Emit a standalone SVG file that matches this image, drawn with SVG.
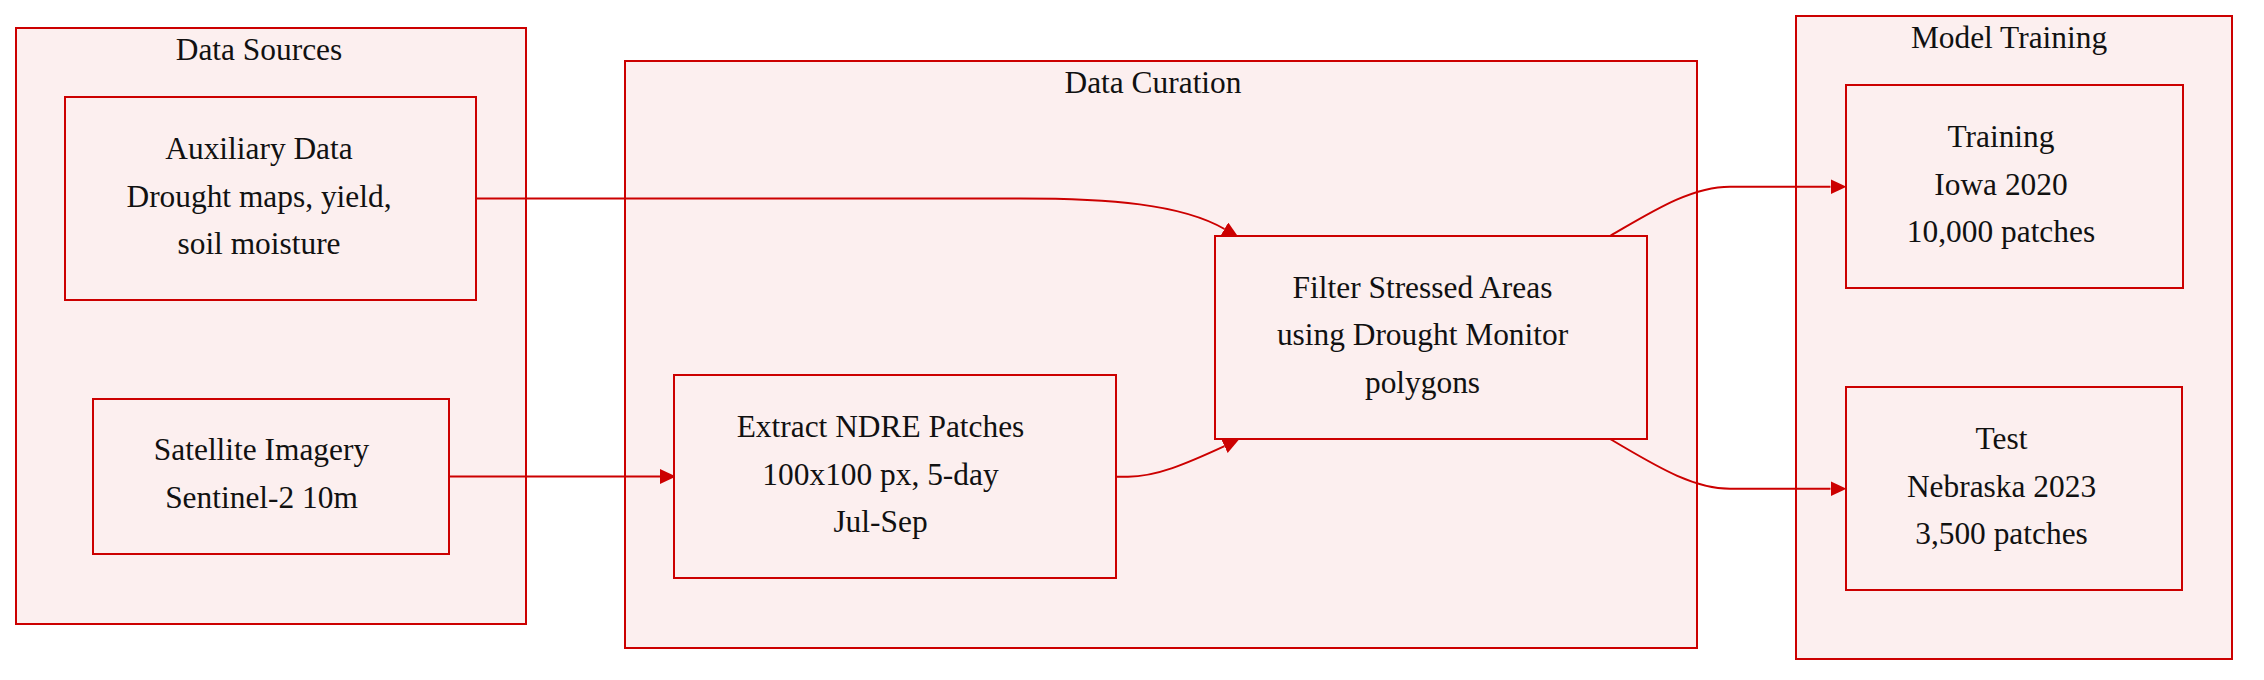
<svg xmlns="http://www.w3.org/2000/svg" width="2264" height="680" viewBox="0 0 2264 680">
  <style>
    .cluster rect { fill: #fcefef; stroke: #cc0000; stroke-width: 2; }
    .node rect { fill: #fcefef; stroke: #cc0000; stroke-width: 2; }
    text { font-family: "Liberation Serif", "Times New Roman", serif; font-size: 31.4px; fill: #111111; text-anchor: middle; }
    .edge { fill: none; stroke: #cc0000; stroke-width: 2; }
  </style>
  <defs>
    <marker id="arrow" viewBox="0 0 16 15" refX="0" refY="7.5" markerWidth="16" markerHeight="15" markerUnits="userSpaceOnUse" orient="auto">
      <path d="M0,0 L16,7.5 L0,15 z" fill="#cc0000"/>
    </marker>
  </defs>

  <g id="cluster-data-sources" class="cluster">
    <rect x="16" y="28" width="510" height="596"/>
    <text x="259" y="60">Data Sources</text>
  </g>
  <g id="cluster-data-curation" class="cluster">
    <rect x="625" y="61" width="1072" height="587"/>
    <text x="1153" y="93">Data Curation</text>
  </g>
  <g id="cluster-model-training" class="cluster">
    <rect x="1796" y="16" width="436" height="643"/>
    <text x="2009" y="48">Model Training</text>
  </g>

  <g id="connectors">
    <path class="edge" d="M476,198.5 L1020,198.5 C1110,198.5 1181,204 1224.5,229" marker-end="url(#arrow)"/>
    <path class="edge" d="M449,476.5 L660,476.5" marker-end="url(#arrow)"/>
    <path class="edge" d="M1116,476.7 L1128,476.7 C1156,476.7 1186,464 1224.5,446.2" marker-end="url(#arrow)"/>
    <path class="edge" d="M1610,236 C1650,213 1690,186.7 1730,186.7 L1830.5,186.7" marker-end="url(#arrow)"/>
    <path class="edge" d="M1610,439 C1650,462 1690,488.7 1730,488.7 L1830.5,488.7" marker-end="url(#arrow)"/>
  </g>

  <g id="node-auxiliary" class="node">
    <rect x="65" y="97" width="411" height="203"/>
    <text x="259" y="158.5">Auxiliary Data</text>
    <text x="259" y="206.5">Drought maps, yield,</text>
    <text x="259" y="254">soil moisture</text>
  </g>
  <g id="node-satellite" class="node">
    <rect x="93" y="399" width="356" height="155"/>
    <text x="261.5" y="460">Satellite Imagery</text>
    <text x="261.5" y="508">Sentinel-2 10m</text>
  </g>
  <g id="node-extract" class="node">
    <rect x="674" y="375" width="442" height="203"/>
    <text x="880.5" y="437">Extract NDRE Patches</text>
    <text x="880.5" y="485">100x100 px, 5-day</text>
    <text x="880.5" y="532">Jul-Sep</text>
  </g>
  <g id="node-filter" class="node">
    <rect x="1215" y="236" width="432" height="203"/>
    <text x="1422.5" y="297.5">Filter Stressed Areas</text>
    <text x="1422.5" y="345">using Drought Monitor</text>
    <text x="1422.5" y="392.5">polygons</text>
  </g>
  <g id="node-training" class="node">
    <rect x="1846" y="85" width="337" height="203"/>
    <text x="2001" y="147">Training</text>
    <text x="2001" y="195">Iowa 2020</text>
    <text x="2001" y="242">10,000 patches</text>
  </g>
  <g id="node-test" class="node">
    <rect x="1846" y="387" width="336" height="203"/>
    <text x="2001.5" y="449">Test</text>
    <text x="2001.5" y="497">Nebraska 2023</text>
    <text x="2001.5" y="543.5">3,500 patches</text>
  </g>
</svg>
